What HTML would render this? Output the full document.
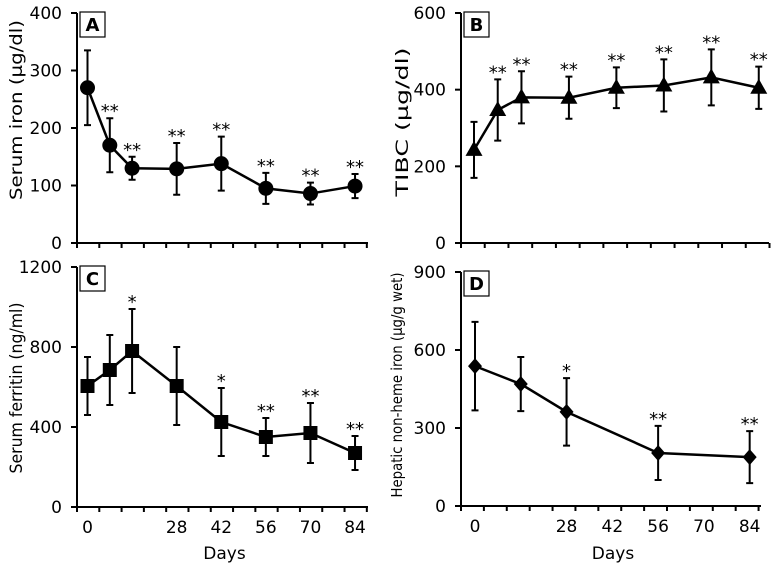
<!DOCTYPE html>
<html><head><meta charset="utf-8"><style>
html,body{margin:0;padding:0;background:#fff;}
svg{display:block;font-family:"DejaVu Sans","Liberation Sans",sans-serif;}
</style></head><body>
<svg id="fig" width="773" height="566" viewBox="0 0 773 566" xmlns="http://www.w3.org/2000/svg"></svg>
<script>
const daysA=[0,7,14,28,42,56,70,84];
const meanA=[270,170,130,129,138,95,86,99];
const sdA=[65,47,20,45,47,27,19,21];
const sigA=["","**","**","**","**","**","**","**"];
const ticksA=[0,100,200,300,400];

const daysB=[0,7,14,28,42,56,70,84];
const meanB=[243,347,380,379,405,411,432,405];
const sdB=[73,80,68,55,53,68,73,55];
const sigB=["","**","**","**","**","**","**","**"];
const ticksB=[0,200,400,600];

const daysC=[0,7,14,28,42,56,70,84];
const meanC=[605,685,780,605,425,350,370,270];
const sdC=[145,175,210,195,170,95,150,85];
const sigC=["","","*","","*","**","**","**"];
const ticksC=[0,400,800,1200];

const daysD=[0,14,28,56,84];
const meanD=[538,469,362,204,188];
const sdD=[170,104,130,104,100];
const sigD=["","","*","**","**"];
const ticksD=[0,300,600,900];

const xLabels=[0,28,42,56,70,84];

const NS="http://www.w3.org/2000/svg";
const svg=document.getElementById('fig');
function mk(tag,attrs,parent){const e=document.createElementNS(NS,tag);for(const k in attrs)e.setAttribute(k,attrs[k]);(parent||svg).appendChild(e);return e;}

const panels=[
 {id:'a',letter:'A',days:daysA,mean:meanA,sd:sdA,sig:sigA,ticks:ticksA,ymax:400,left:77,right:368,top:13,bottom:243,d0:87.5,scale:3.185,marker:'circle',ylabel:'Serum iron (µg/dl)',ylx:17,ylc:110,yll:180,xlab:false,tickR:62},
 {id:'b',letter:'B',days:daysB,mean:meanB,sd:sdB,sig:sigB,ticks:ticksB,ymax:600,left:461,right:769,top:13,bottom:243,d0:474,scale:3.39,marker:'triangle',ylabel:'TIBC (µg/dl)',ylx:403,ylc:122,yll:149,xlab:false,tickR:446},
 {id:'c',letter:'C',days:daysC,mean:meanC,sd:sdC,sig:sigC,ticks:ticksC,ymax:1200,left:77,right:368,top:267,bottom:507,d0:87.5,scale:3.185,marker:'square',ylabel:'Serum ferritin (ng/ml)',ylx:17,ylc:388,yll:171,xlab:true,tickR:62},
 {id:'d',letter:'D',days:daysD,mean:meanD,sd:sdD,sig:sigD,ticks:ticksD,ymax:900,left:461,right:761,top:272,bottom:506,d0:475,scale:3.27,marker:'diamond',ylabel:'Hepatic non-heme iron (µg/g wet)',ylx:397,ylc:385,yll:225,xlab:true,tickR:446}
];

panels.forEach(p=>{
 const g=mk('g',{});
 
 
 const X=d=>p.d0+d*p.scale;
 const Y=v=>p.bottom-(v/p.ymax)*(p.bottom-p.top);
 const ya=mk('line',{x1:p.left,y1:p.top,x2:p.left,y2:p.bottom+1,stroke:'#000','stroke-width':2},g);
 
 
 const xa=mk('line',{x1:p.left-1,y1:p.bottom,x2:p.right,y2:p.bottom,stroke:'#000','stroke-width':2},g);
 
 
 p.ticks.forEach(t=>{
  mk('line',{x1:p.left-6,y1:Y(t),x2:p.left,y2:Y(t),stroke:'#000','stroke-width':2},g);
  const tl=mk('text',{x:p.tickR,y:Y(t)+6,'text-anchor':'end','font-size':17},g);
  tl.textContent=t;
  
  
 });
 const step=7*p.scale;
 for(let x=p.left;x<=p.right+1;x+=step){
  mk('line',{x1:x,y1:p.bottom,x2:x,y2:p.bottom+5,stroke:'#000','stroke-width':2},g);
 }
 if(p.xlab){
  xLabels.forEach(d=>{
   const t=mk('text',{x:X(d),y:p.bottom+26,'text-anchor':'middle','font-size':17},g);
   t.textContent=d;
   
   
  });
  const dl=mk('text',{x:(p.left+p.right)/2+2,y:559,'text-anchor':'middle','font-size':17},g);
  dl.textContent='Days';
  
  
 }
 const cy=p.ylc;
 const yl=mk('text',{x:p.ylx,y:cy,'text-anchor':'middle','font-size':p.id==='d'?15:17,textLength:p.yll,lengthAdjust:'spacingAndGlyphs',transform:`rotate(-90 ${p.ylx} ${cy})`,'dominant-baseline':'central'},g);
 yl.textContent=p.ylabel;
 
 
 const bx=p.left+3, by=p.top-1;
 const box=mk('rect',{x:bx,y:by,width:25,height:25,fill:'#fff',stroke:'#000','stroke-width':1.2},g);
 
 
 const lt=mk('text',{x:bx+12.5,y:by+19,'text-anchor':'middle','font-size':18,'font-weight':'bold'},g);
 lt.textContent=p.letter;
 
 
 p.days.forEach((d,i)=>{
  const x=X(d),y1=Y(p.mean[i]+p.sd[i]),y2=Y(p.mean[i]-p.sd[i]);
  const eb=mk('path',{d:`M${x},${y1}V${y2}M${x-3.5},${y1}H${x+3.5}M${x-3.5},${y2}H${x+3.5}`,stroke:'#000','stroke-width':2,fill:'none'},g);
  
  
  if(p.sig[i]){
   const s=mk('text',{x:x,y:y1-1,'text-anchor':'middle','font-size':18},g);
   s.textContent=p.sig[i];
   
   
  }
 });
 const pts=p.days.map((d,i)=>X(d)+','+Y(p.mean[i])).join(' ');
 const ln=mk('polyline',{points:pts,fill:'none',stroke:'#000','stroke-width':2.5},g);
 
 
 p.days.forEach((d,i)=>{
  const x=X(d),y=Y(p.mean[i]);let m;
  if(p.marker==='circle')m=mk('circle',{cx:x,cy:y,r:7.5,fill:'#000'},g);
  else if(p.marker==='square')m=mk('rect',{x:x-7,y:y-7,width:14,height:14,fill:'#000'},g);
  else if(p.marker==='triangle')m=mk('polygon',{points:`${x},${y-9} ${x-8.5},${y+6} ${x+8.5},${y+6}`,fill:'#000'},g);
  else m=mk('polygon',{points:`${x},${y-8} ${x+7},${y} ${x},${y+8} ${x-7},${y}`,fill:'#000'},g);
  
  
 });
});
</script>
</body></html>
